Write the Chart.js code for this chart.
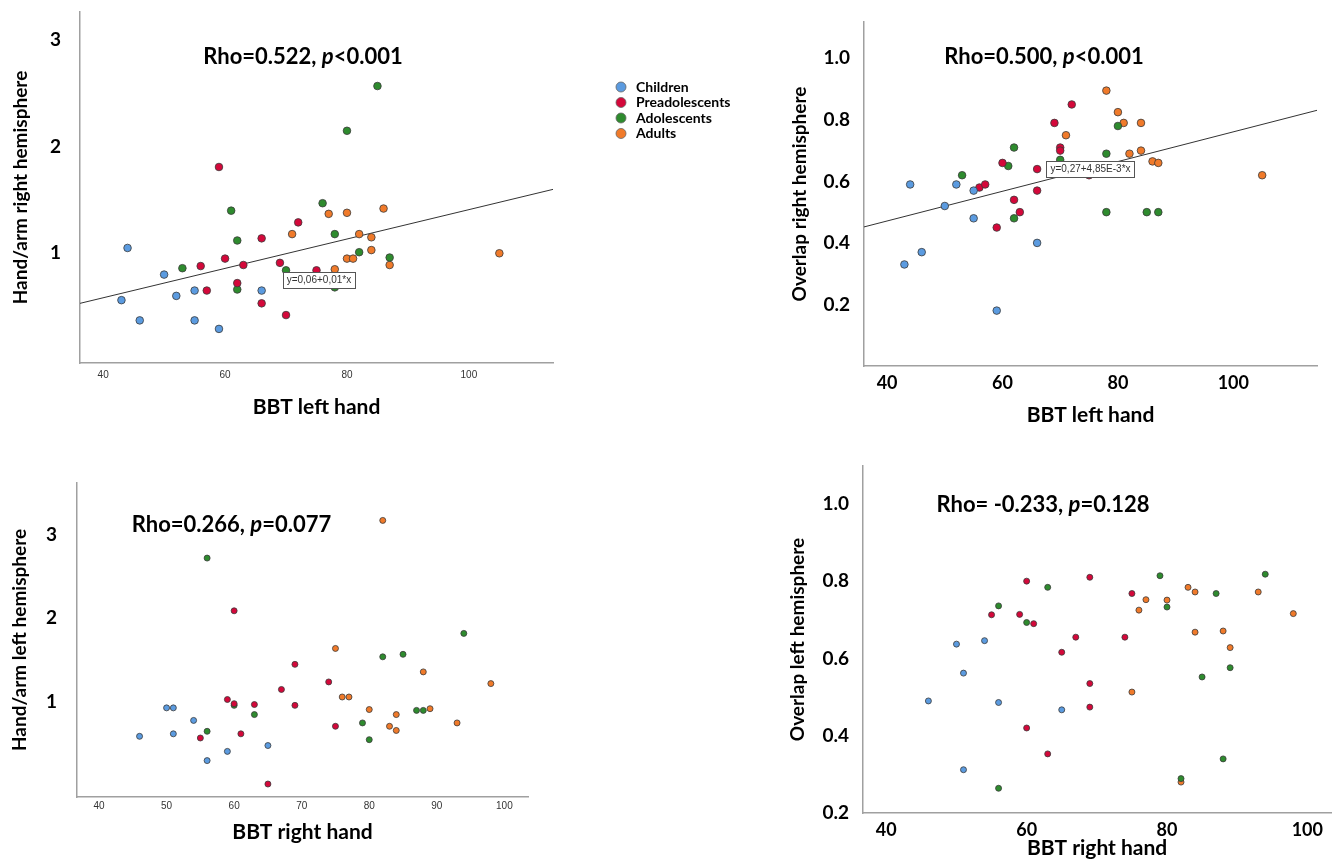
<!DOCTYPE html>
<html>
<head>
<meta charset="utf-8">
<script src="https://cdn.jsdelivr.net/npm/chart.js@4/dist/chart.umd.min.js"></script>
<style>
  html, body { margin: 0; padding: 0; background: #fff; }
  body { position: relative; width: 1336px; height: 861px; overflow: hidden; }
  canvas { position: absolute; }
</style>
</head>
<body>
<canvas id="c1" width="760" height="430" style="left:0;top:0"></canvas>
<canvas id="c2" width="576" height="430" style="left:760px;top:0"></canvas>
<canvas id="c3" width="560" height="421" style="left:0;top:440px"></canvas>
<canvas id="c4" width="576" height="421" style="left:760px;top:440px"></canvas>
<script>
const groups = ['Children', 'Preadolescents', 'Adolescents', 'Adults'];
const groupColors = ['#5b9be0', '#d4083a', '#2e8b2e', '#f07a2a'];

// top left: BBT left hand vs hand/arm right hemisphere
const p1ChildX = [44, 43, 46, 50, 52, 55, 55, 59, 66];
const p1ChildY = [1.05, 0.56, 0.37, 0.80, 0.60, 0.65, 0.37, 0.29, 0.65];
const p1PreX = [59, 60, 56, 57, 62, 63, 66, 66, 69, 70, 72, 75];
const p1PreY = [1.81, 0.95, 0.88, 0.65, 0.72, 0.89, 1.14, 0.53, 0.91, 0.42, 1.29, 0.84];
const p1AdoX = [85, 80, 76, 61, 62, 78, 53, 62, 82, 87, 78, 70];
const p1AdoY = [2.57, 2.15, 1.47, 1.40, 1.12, 1.18, 0.86, 0.66, 1.01, 0.96, 0.68, 0.84];
const p1AdultX = [77, 80, 86, 71, 82, 84, 84, 80, 81, 87, 105, 78];
const p1AdultY = [1.37, 1.38, 1.42, 1.18, 1.18, 1.15, 1.03, 0.95, 0.95, 0.89, 1.00, 0.85];
const p1FitX = [36.2, 113.8];
const p1FitY = [0.53, 1.60];

// top right: BBT left hand vs overlap right hemisphere
const p2ChildX = [44, 43, 46, 50, 52, 55, 55, 66, 59];
const p2ChildY = [0.59, 0.33, 0.37, 0.52, 0.59, 0.57, 0.48, 0.40, 0.18];
const p2PreX = [56, 57, 60, 59, 62, 63, 66, 66, 69, 70, 70, 72, 75];
const p2PreY = [0.58, 0.59, 0.66, 0.45, 0.54, 0.50, 0.64, 0.57, 0.79, 0.71, 0.70, 0.85, 0.62];
const p2AdoX = [53, 61, 62, 62, 70, 78, 80, 78, 85, 87];
const p2AdoY = [0.62, 0.65, 0.71, 0.48, 0.67, 0.69, 0.78, 0.50, 0.50, 0.50];
const p2AdultX = [78, 80, 81, 71, 84, 82, 84, 86, 87, 105];
const p2AdultY = [0.895, 0.825, 0.79, 0.75, 0.79, 0.69, 0.70, 0.665, 0.66, 0.62];
const p2FitX = [36.0, 114.5];
const p2FitY = [0.452, 0.831];

// bottom left: BBT right hand vs hand/arm left hemisphere
const p3ChildX = [46, 50, 51, 51, 54, 56, 59, 65];
const p3ChildY = [0.59, 0.93, 0.93, 0.62, 0.78, 0.30, 0.41, 0.48];
const p3PreX = [55, 59, 60, 60, 61, 63, 65, 67, 69, 69, 74, 75];
const p3PreY = [0.57, 1.03, 0.98, 2.09, 0.62, 0.97, 0.02, 1.15, 1.45, 0.96, 1.24, 0.71];
const p3AdoX = [56, 56, 60, 63, 79, 80, 82, 85, 87, 88, 94];
const p3AdoY = [2.72, 0.65, 0.96, 0.85, 0.75, 0.55, 1.54, 1.57, 0.90, 0.90, 1.82];
const p3AdultX = [82, 75, 76, 77, 80, 83, 84, 84, 88, 89, 93, 98];
const p3AdultY = [3.17, 1.64, 1.06, 1.06, 0.91, 0.71, 0.85, 0.66, 1.36, 0.92, 0.75, 1.22];

// bottom right: BBT right hand vs overlap left hemisphere
const p4ChildX = [46, 50, 51, 54, 51, 56, 65];
const p4ChildY = [0.49, 0.637, 0.562, 0.646, 0.312, 0.486, 0.467];
const p4PreX = [55, 59, 60, 61, 60, 63, 65, 67, 69, 69, 69, 74, 75];
const p4PreY = [0.713, 0.714, 0.80, 0.69, 0.42, 0.353, 0.616, 0.655, 0.81, 0.535, 0.474, 0.655, 0.768];
const p4AdoX = [56, 60, 63, 56, 79, 80, 82, 85, 87, 88, 89, 94];
const p4AdoY = [0.736, 0.693, 0.784, 0.264, 0.814, 0.733, 0.289, 0.552, 0.768, 0.34, 0.576, 0.818];
const p4AdultX = [75, 76, 77, 80, 83, 84, 84, 82, 88, 89, 93, 98];
const p4AdultY = [0.513, 0.725, 0.752, 0.751, 0.784, 0.772, 0.668, 0.28, 0.671, 0.628, 0.772, 0.716];

const leftHandTicks = [40, 60, 80, 100];
const rightHandTicks = [40, 50, 60, 70, 80, 90, 100];
const rightHandTicksBig = [40, 60, 80, 100];
const ratioTicks = [1, 2, 3];
const overlapTicks = [0.2, 0.4, 0.6, 0.8, 1.0];

const bold = size => ({ family: 'Lato', size: size, weight: 'bold' });
const small = { family: '"Liberation Sans", Arial', size: 10 };

// text drawn on top: rho label, fit equation box, legend
function extras(o) {
  return {
    id: 'extras',
    afterDatasetsDraw(chart) {
      if (!o.box) return;
      const ctx = chart.ctx;
      const cx = chart.scales.x.getPixelForValue(o.box.x);
      const cy = chart.scales.y.getPixelForValue(o.box.y);
      ctx.save();
      ctx.font = '10px "Liberation Sans", Arial';
      const w = ctx.measureText(o.box.text).width + 8, h = 16;
      ctx.fillStyle = '#fff';
      ctx.fillRect(cx - w / 2, cy - h / 2, w, h);
      ctx.strokeStyle = '#555';
      ctx.lineWidth = 1;
      ctx.strokeRect(Math.round(cx - w / 2) + 0.5, Math.round(cy - h / 2) + 0.5, Math.round(w), h);
      ctx.fillStyle = '#333';
      ctx.textAlign = 'center';
      ctx.textBaseline = 'middle';
      ctx.fillText(o.box.text, cx, cy + 0.5);
      ctx.restore();
    },
    afterDraw(chart) {
      const ctx = chart.ctx;
      ctx.save();
      ctx.textBaseline = 'middle';
      ctx.fillStyle = '#000';
      const fonts = ['bold 22px Lato', 'italic bold 22px Lato', 'bold 22px Lato'];
      let total = 0;
      const widths = o.rho.map((t, i) => { ctx.font = fonts[i]; const w = ctx.measureText(t).width; total += w; return w; });
      let x = o.rhoAt[0] - total / 2;
      o.rho.forEach((t, i) => {
        ctx.font = fonts[i];
        ctx.textAlign = 'left';
        ctx.fillText(t, x, o.rhoAt[1]);
        x += widths[i];
      });
      if (o.legendAt) {
        const [lx, ly] = o.legendAt;
        chart.data.datasets.slice(0, groups.length).forEach((ds, i) => {
          const y = ly + i * 15.5;
          ctx.beginPath();
          ctx.arc(lx, y, 5, 0, Math.PI * 2);
          ctx.fillStyle = ds.backgroundColor;
          ctx.fill();
          ctx.strokeStyle = '#666';
          ctx.lineWidth = 0.8;
          ctx.stroke();
          ctx.fillStyle = '#000';
          ctx.font = 'bold 14px Lato';
          ctx.textAlign = 'left';
          ctx.fillText(ds.label, lx + 15, y);
        });
      }
      ctx.restore();
    }
  };
}

function panel(id, o) {
  const datasets = o.xs.map((xs, g) => ({
    label: groups[g],
    data: xs.map((x, i) => ({ x: x, y: o.ys[g][i] })),
    backgroundColor: groupColors[g],
    borderColor: '#3a3a3a',
    borderWidth: 0.8,
    pointRadius: o.r
  }));
  if (o.fitX) {
    datasets.push({
      label: 'fit',
      data: o.fitX.map((x, i) => ({ x: x, y: o.fitY[i] })),
      showLine: true,
      pointRadius: 0,
      borderColor: '#333',
      borderWidth: 1,
      backgroundColor: 'transparent'
    });
  }
  new Chart(document.getElementById(id), {
    type: 'scatter',
    data: { datasets },
    options: {
      responsive: false,
      animation: false,
      events: [],
      layout: { padding: o.pad },
      plugins: { legend: { display: false }, tooltip: { enabled: false } },
      scales: {
        x: {
          min: o.xMin, max: o.xMax,
          afterBuildTicks: s => { s.ticks = o.xTicks.map(v => ({ value: v })); },
          afterFit: s => { s.height = o.xH; s.paddingLeft = 0; s.paddingRight = 0; },
          grid: { display: false, drawTicks: false },
          border: { display: true, color: '#a0a0a0', width: 1.5 },
          ticks: { font: o.xFont, color: o.xColor, padding: o.xPad, maxRotation: 0, autoSkip: false },
          title: { display: true, text: o.xTitle, font: bold(21), color: '#000', padding: { top: 0, bottom: o.xTitlePad } }
        },
        y: {
          min: o.yMin, max: o.yMax,
          afterBuildTicks: s => { s.ticks = o.yTicks.map(v => ({ value: v })); },
          afterFit: s => { s.width = o.yW; s.paddingTop = 0; s.paddingBottom = 0; },
          grid: { display: false, drawTicks: false },
          border: { display: true, color: '#a0a0a0', width: 1.5 },
          ticks: { font: bold(19), color: '#000', padding: o.yPad, autoSkip: false,
                   callback: v => o.yDec ? v.toFixed(o.yDec) : String(v) },
          title: { display: true, text: o.yTitle, font: bold(19), color: '#000', padding: { top: o.yTitlePad, bottom: 0 } }
        }
      }
    },
    plugins: [extras(o)]
  });
}

panel('c1', {
  xs: [p1ChildX, p1PreX, p1AdoX, p1AdultX], ys: [p1ChildY, p1PreY, p1AdoY, p1AdultY],
  fitX: p1FitX, fitY: p1FitY, r: 3.8,
  pad: { left: 0, top: 12, right: 207, bottom: 0 }, xH: 67, yW: 80,
  xMin: 36.2, xMax: 113.8, yMin: -0.03, yMax: 3.265,
  xTicks: leftHandTicks, yTicks: ratioTicks,
  xFont: small, xColor: '#333', xPad: 6, yPad: 19,
  xTitle: 'BBT left hand', xTitlePad: 10.4,
  yTitle: 'Hand/arm right hemisphere', yTitlePad: 9,
  rho: ['Rho=0.522, ', 'p', '<0.001'], rhoAt: [303, 57],
  box: { x: 75.4, y: 0.747, text: 'y=0,06+0,01*x' },
  legendAt: [621, 87]
});

panel('c2', {
  xs: [p2ChildX, p2PreX, p2AdoX, p2AdultX], ys: [p2ChildY, p2PreY, p2AdoY, p2AdultY],
  fitX: p2FitX, fitY: p2FitY, r: 3.8,
  pad: { left: 0, top: 22, right: 19, bottom: 0 }, xH: 64, yW: 104,
  xMin: 36.0, xMax: 114.5, yMin: 0, yMax: 1.118,
  xTicks: leftHandTicks, yTicks: overlapTicks, yDec: 1,
  xFont: bold(18), xColor: '#000', xPad: 6, yPad: 14,
  xTitle: 'BBT left hand', xTitlePad: 2.4,
  yTitle: 'Overlap right hemisphere', yTitlePad: 28.6,
  rho: ['Rho=0.500, ', 'p', '<0.001'], rhoAt: [284, 57],
  box: { x: 75.25, y: 0.64, text: 'y=0,27+4,85E-3*x' }
});

panel('c3', {
  xs: [p3ChildX, p3PreX, p3AdoX, p3AdultX], ys: [p3ChildY, p3PreY, p3AdoY, p3AdultY],
  r: 3,
  pad: { left: 0, top: 43, right: 32, bottom: 0 }, xH: 64, yW: 77,
  xMin: 36.74, xMax: 103.5, yMin: -0.135, yMax: 3.617,
  xTicks: rightHandTicks, yTicks: ratioTicks,
  xFont: small, xColor: '#333', xPad: 3, yPad: 20,
  xTitle: 'BBT right hand', xTitlePad: 16.4,
  yTitle: 'Hand/arm left hemisphere', yTitlePad: 8.6,
  rho: ['Rho=0.266, ', 'p', '=0.077'], rhoAt: [231.5, 85]
});

panel('c4', {
  xs: [p4ChildX, p4PreX, p4AdoX, p4AdultX], ys: [p4ChildY, p4PreY, p4AdoY, p4AdultY],
  r: 3,
  pad: { left: 0, top: 26, right: 2, bottom: 0 }, xH: 48, yW: 103,
  xMin: 36.68, xMax: 103.4, yMin: 0.2, yMax: 1.098,
  xTicks: rightHandTicksBig, yTicks: overlapTicks, yDec: 1,
  xFont: bold(18), xColor: '#000', xPad: 6, yPad: 14,
  xTitle: 'BBT right hand', xTitlePad: 0.4,
  yTitle: 'Overlap left hemisphere', yTitlePad: 26.6,
  rho: ['Rho= -0.233, ', 'p', '=0.128'], rhoAt: [283, 65]
});
</script>
</body>
</html>
